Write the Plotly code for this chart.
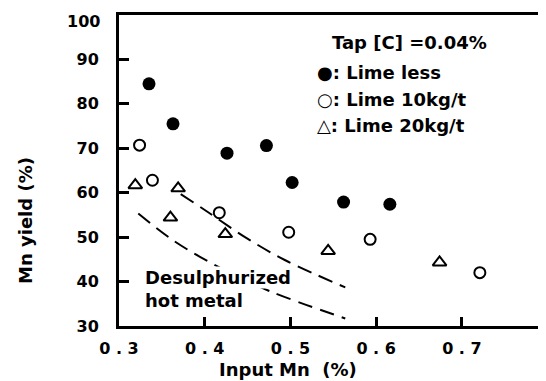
import plotly.graph_objects as go

# ---- data ----
x_lime_less = [0.335, 0.363, 0.426, 0.472, 0.502, 0.562, 0.616]
y_lime_less = [84.5, 75.5, 68.9, 70.6, 62.3, 57.9, 57.4]

x_lime10 = [0.324, 0.339, 0.417, 0.498, 0.593, 0.721]
y_lime10 = [70.7, 62.8, 55.5, 51.1, 49.5, 42.0]

x_lime20 = [0.319, 0.369, 0.360, 0.424, 0.544, 0.674]
y_lime20 = [61.7, 61.0, 54.4, 50.7, 46.9, 44.3]

x_upper_curve = [0.372, 0.404, 0.447, 0.494, 0.564]
y_upper_curve = [59.7, 55.6, 50.0, 44.8, 38.7]

x_lower_curve = [0.3225, 0.363, 0.412, 0.474, 0.564]
y_lower_curve = [55.3, 49.3, 43.7, 38.0, 31.7]

x_tickvals = [0.3, 0.4, 0.5, 0.6, 0.7]
x_ticktext = ["0 . 3", "0 . 4", "0 . 5", "0 . 6", "0 . 7"]
y_tickvals = [30, 40, 50, 60, 70, 80, 90]
y_ticktext = ["30", "40", "50", "60", "70", "80", "90"]
y_top_label = "100"   # the top tick label sits just under the frame corner

legend_title = "Tap [C] =0.04%"
legend_items = ["●: Lime less", "○: Lime 10kg/t", "△: Lime 20kg/t"]
curve_label_lines = ["Desulphurized", "hot metal"]
x_title = "Input Mn\u00a0\u00a0(%)"
y_title = "Mn yield (%)"

# ---- layout constants (page body has an 8px default margin) ----
OFF = 8
W, H = 546 - OFF, 381 - OFF
ML, MR, MT, MB = 119 - OFF, 1, 15 - OFF, 55
PW, PH = W - ML - MR, H - MT - MB
FONT = "DejaVu Sans"


def px(xp):
    """screen x pixel -> paper x"""
    return (xp - OFF - ML) / PW


def py(yp):
    """screen y pixel -> paper y"""
    return (H - MB - (yp - OFF)) / PH


fig = go.Figure()

dash = "15px,8px"
for xs, ys in ((x_upper_curve, y_upper_curve), (x_lower_curve, y_lower_curve)):
    fig.add_trace(go.Scatter(x=xs, y=ys, mode="lines",
                             line=dict(color="black", width=2, dash=dash, shape="spline"),
                             showlegend=False, hoverinfo="skip"))

fig.add_trace(go.Scatter(x=x_lime_less, y=y_lime_less, mode="markers", name="Lime less",
                         marker=dict(symbol="circle", size=13, color="black"),
                         showlegend=False))
fig.add_trace(go.Scatter(x=x_lime10, y=y_lime10, mode="markers", name="Lime 10kg/t",
                         marker=dict(symbol="circle-open", size=11, color="black",
                                     line=dict(width=2, color="black")),
                         showlegend=False))
fig.add_trace(go.Scatter(x=x_lime20, y=y_lime20, mode="markers", name="Lime 20kg/t",
                         marker=dict(symbol="triangle-up-open", size=12, color="black",
                                     line=dict(width=2, color="black")),
                         showlegend=False))

tfont = dict(family=FONT, size=18, color="black", weight="bold")
tickfont = dict(family=FONT, size=16, color="black", weight="bold")
annotations = []
annotations.append(dict(x=px(102), y=py(21), xref="paper", yref="paper", text=y_top_label,
                        showarrow=False, xanchor="right", yanchor="middle", font=tickfont))
for i, line in enumerate(curve_label_lines):
    annotations.append(dict(x=px(144), y=py(277 + 23 * i), xref="paper", yref="paper",
                            text=line, showarrow=False, xanchor="left", yanchor="middle",
                            bgcolor="white", borderpad=0, font=tfont))
annotations.append(dict(x=px(330), y=py(42), xref="paper", yref="paper", text=legend_title,
                        showarrow=False, xanchor="left", yanchor="middle", font=tfont))
for i, item in enumerate(legend_items):
    annotations.append(dict(x=px(315), y=py(72.5 + 26.7 * i), xref="paper", yref="paper",
                            text=item, showarrow=False, xanchor="left", yanchor="middle",
                            font=tfont))
annotations.append(dict(x=px(287.5), y=py(369), xref="paper", yref="paper", text=x_title,
                        showarrow=False, xanchor="center", yanchor="middle", font=tfont))
annotations.append(dict(x=px(25), y=py(221), xref="paper", yref="paper", text=y_title,
                        showarrow=False, xanchor="center", yanchor="middle", textangle=-90,
                        font=tfont))

fig.update_layout(
    width=W, height=H,
    margin=dict(l=ML, r=MR, t=MT, b=MB),
    paper_bgcolor="white", plot_bgcolor="white",
    showlegend=False,
    annotations=annotations,
)

fig.update_xaxes(range=[0.3, 0.797], showgrid=False, zeroline=False,
                 showline=True, mirror=True, linecolor="black", linewidth=3,
                 ticks="inside", ticklen=9, tickwidth=3, tickcolor="black",
                 tickvals=x_tickvals, ticktext=x_ticktext, ticklabelstandoff=6,
                 ticklabeloverflow="allow", tickfont=tickfont,
                 automargin=False, fixedrange=True)
fig.update_yaxes(range=[30, 100], showgrid=False, zeroline=False,
                 showline=True, mirror=True, linecolor="black", linewidth=3,
                 ticks="inside", ticklen=10, tickwidth=3, tickcolor="black",
                 tickvals=y_tickvals, ticktext=y_ticktext, ticklabelstandoff=14,
                 ticklabeloverflow="allow", tickfont=tickfont,
                 automargin=False, fixedrange=True)

fig.write_html("out.html")
